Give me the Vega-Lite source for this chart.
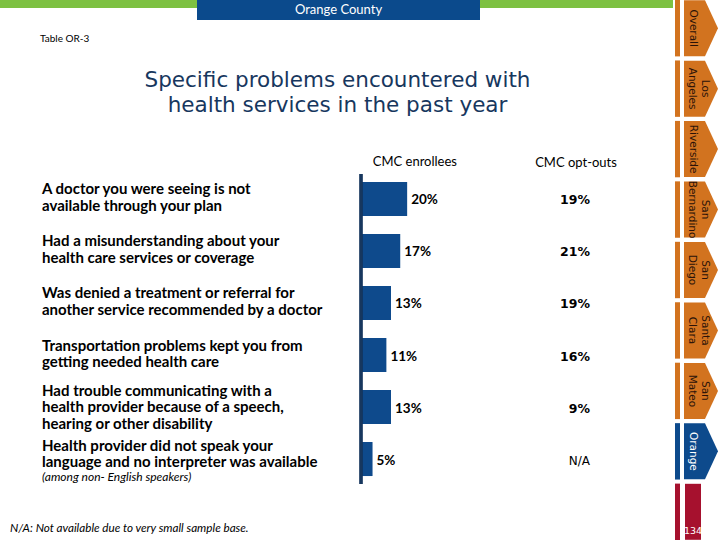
{
  "$schema": "https://vega.github.io/schema/vega-lite/v6.json",
  "padding": 0,
  "background": "white",
  "config": {
    "view": {"stroke": null},
    "font": "Lato",
    "title": {"fontWeight": "normal", "color": "black"}
  },
  "datasets": {
    "problems": [
      {"item": "A doctor you were seeing is not\navailable through your plan", "enrollees": 0.20, "optout": 0.19, "note": null},
      {"item": "Had a misunderstanding about your\nhealth care services or coverage", "enrollees": 0.17, "optout": 0.21, "note": null},
      {"item": "Was denied a treatment or referral for\nanother service recommended by a doctor", "enrollees": 0.13, "optout": 0.19, "note": null},
      {"item": "Transportation problems kept you from\ngetting needed health care", "enrollees": 0.11, "optout": 0.16, "note": null},
      {"item": "Had trouble communicating with a\nhealth provider because of a speech,\nhearing or other disability", "enrollees": 0.13, "optout": 0.09, "note": null},
      {"item": "Health provider did not speak your\nlanguage and no interpreter was available", "enrollees": 0.05, "optout": null, "note": "(among non- English speakers)"}
    ],
    "tabs": [
      {"tab": "Overall", "role": "other"},
      {"tab": "Los Angeles", "role": "other"},
      {"tab": "Riverside", "role": "other"},
      {"tab": "San Bernardino", "role": "other"},
      {"tab": "San Diego", "role": "other"},
      {"tab": "Santa Clara", "role": "other"},
      {"tab": "San Mateo", "role": "other"},
      {"tab": "Orange", "role": "current"},
      {"tab": "134", "role": "page"}
    ]
  },
  "spacing": 2,
  "hconcat": [
    {
      "spacing": 26,
      "title": {"text": "N/A: Not available due to very small sample base.", "orient": "bottom", "anchor": "start", "dx": 10, "offset": 38, "fontSize": 11.7, "fontStyle": "italic", "font": "Lato"},
      "vconcat": [
        {
          "spacing": 0,
          "title": {"text": "Table OR-3", "orient": "bottom", "anchor": "start", "dx": 40, "offset": 14, "fontSize": 10, "font": "Lato"},
          "hconcat": [
            {"width": 197, "height": 8, "data": {"values": [{"seg": "left"}]}, "mark": {"type": "bar", "color": "#7dc142"}, "encoding": {}},
            {"width": 283, "height": 20, "data": {"values": [{"region": "Orange County"}]},
             "layer": [
               {"mark": {"type": "bar", "color": "#0b4a8c"}, "encoding": {}},
               {"mark": {"type": "text", "color": "white", "fontSize": 13, "font": "Lato", "baseline": "middle"}, "encoding": {"text": {"field": "region"}}}
             ]},
            {"width": 193, "height": 8, "data": {"values": [{"seg": "right"}]}, "mark": {"type": "bar", "color": "#7dc142"}, "encoding": {}}
          ]
        },
        {
          "spacing": 0,
          "title": {"text": ["Specific problems encountered with", "health services in the past year"], "anchor": "middle", "dx": 17, "offset": 39, "fontSize": 21.5, "font": "DejaVu Sans", "color": "#17375e", "lineHeight": 25},
          "hconcat": [
            {
              "width": 359, "height": 310,
              "data": {"name": "problems"},
              "title": {"text": " ", "offset": 4, "fontSize": 13},
              "encoding": {"y": {"field": "item", "type": "nominal", "sort": null, "axis": null, "scale": {"padding": 0.48}}},
              "layer": [
                {"transform": [{"filter": "length(split(datum.item, '\\n')) == 2 && datum.note == null"}],
                 "mark": {"type": "text", "align": "left", "baseline": "middle", "lineBreak": "\n", "fontWeight": "bold", "fontSize": 15, "lineHeight": 16.8, "dx": -137.5, "dy": -9.5, "color": "black", "font": "Lato"},
                 "encoding": {"text": {"field": "item"}}},
                {"transform": [{"filter": "length(split(datum.item, '\\n')) == 3"}],
                 "mark": {"type": "text", "align": "left", "baseline": "middle", "lineBreak": "\n", "fontWeight": "bold", "fontSize": 15, "lineHeight": 16.5, "dx": -137.5, "dy": -16.3, "color": "black", "font": "Lato"},
                 "encoding": {"text": {"field": "item"}}},
                {"transform": [{"filter": "datum.note != null"}],
                 "mark": {"type": "text", "align": "left", "baseline": "middle", "lineBreak": "\n", "fontWeight": "bold", "fontSize": 15, "lineHeight": 16.5, "dx": -137.5, "dy": -13.2, "color": "black", "font": "Lato"},
                 "encoding": {"text": {"field": "item"}}},
                {"transform": [{"filter": "datum.note != null"}],
                 "mark": {"type": "text", "align": "left", "baseline": "middle", "fontStyle": "italic", "fontSize": 12, "dx": -137.5, "dy": 18, "color": "black", "font": "Lato"},
                 "encoding": {"text": {"field": "note"}}}
              ]
            },
            {
              "width": 150, "height": 310,
              "data": {"name": "problems"},
              "title": {"text": "CMC enrollees", "anchor": "start", "dx": 13, "offset": 4, "fontSize": 13, "font": "Lato"},
              "layer": [
                {"mark": {"type": "bar", "color": "#0e4a8c"},
                 "encoding": {
                   "y": {"field": "item", "type": "nominal", "sort": null, "axis": null, "scale": {"paddingInner": 0.346, "paddingOuter": 0.153}},
                   "x": {"field": "enrollees", "type": "quantitative", "scale": {"domain": [0, 0.61]}, "axis": null}}},
                {"mark": {"type": "text", "align": "left", "baseline": "middle", "dx": 4, "dy": 1.5, "fontWeight": "bold", "fontSize": 13.5, "color": "black", "font": "Lato"},
                 "encoding": {
                   "y": {"field": "item", "type": "nominal", "sort": null, "axis": null},
                   "x": {"field": "enrollees", "type": "quantitative"},
                   "text": {"field": "enrollees", "type": "quantitative", "format": ".0%"}}},
                {"mark": {"type": "rule", "color": "#17375e", "strokeWidth": 2.5},
                 "encoding": {"x": {"datum": 0}}}
              ]
            },
            {
              "width": 130, "height": 310,
              "data": {"name": "problems"},
              "title": {"text": "CMC opt-outs", "anchor": "middle", "offset": 4, "fontSize": 13, "font": "Lato"},
              "encoding": {"y": {"field": "item", "type": "nominal", "sort": null, "axis": null, "scale": {"padding": 0.48}}},
              "layer": [
                {"transform": [{"filter": "datum.optout != null"}],
                 "mark": {"type": "text", "align": "right", "baseline": "middle", "dx": 14, "dy": 1.5, "fontWeight": "bold", "fontSize": 12.5, "color": "black", "font": "DejaVu Sans"},
                 "encoding": {"text": {"field": "optout", "type": "quantitative", "format": ".0%"}}},
                {"transform": [{"filter": "datum.optout == null"}],
                 "mark": {"type": "text", "align": "right", "baseline": "middle", "dx": 14, "dy": 1.5, "fontSize": 12, "color": "black", "font": "DejaVu Sans"},
                 "encoding": {"text": {"value": "N/A"}}}
              ]
            }
          ]
        }
      ]
    },
    {
      "spacing": 4,
      "bounds": "flush",
      "hconcat": [
        {
          "width": 5, "height": 540,
          "data": {"name": "tabs"},
          "mark": {"type": "bar"},
          "encoding": {
            "y": {"field": "tab", "type": "nominal", "sort": null, "axis": null, "scale": {"paddingInner": 0.067, "paddingOuter": 0}},
            "color": {"field": "role", "type": "nominal", "legend": null, "scale": {"domain": ["other", "current", "page"], "range": ["#d2731f", "#0d4a8c", "#a6112e"]}}
          }
        },
        {
          "width": 34, "height": 540,
          "data": {"name": "tabs"},
          "encoding": {"y": {"field": "tab", "type": "nominal", "sort": null, "axis": null, "scale": {"type": "band", "paddingInner": 0.067, "paddingOuter": 0}}},
          "layer": [
            {"transform": [{"filter": "datum.role != 'page'"}],
             "mark": {"type": "point", "filled": true, "opacity": 1, "size": 3136, "strokeWidth": 0, "shape": "M-0.607,-1L0.143,-1L0.607,0L0.143,1L-0.607,1Z"},
             "encoding": {
               "color": {"field": "role", "type": "nominal", "legend": null, "scale": {"domain": ["other", "current", "page"], "range": ["#d2731f", "#0d4a8c", "#a6112e"]}}}},
            {"transform": [{"filter": "datum.role == 'page'"}],
             "mark": {"type": "point", "filled": true, "opacity": 1, "size": 3136, "strokeWidth": 0, "shape": "M-0.571,-1L0,-1L0,1L-0.571,1Z"},
             "encoding": {
               "color": {"field": "role", "type": "nominal", "legend": null}}},
            {"transform": [{"filter": "datum.role != 'page' && indexof(datum.tab, ' ') < 0"}],
             "mark": {"type": "text", "angle": 90, "baseline": "middle", "align": "center", "dy": 8, "fontSize": 10.5, "font": "DejaVu Sans"},
             "encoding": {
               "text": {"field": "tab"},
               "color": {"condition": {"test": "datum.role == 'current'", "value": "white"}, "value": "#2a1208"}}},
            {"transform": [{"filter": "datum.role != 'page' && indexof(datum.tab, ' ') >= 0"}],
             "mark": {"type": "text", "angle": 90, "lineBreak": " ", "baseline": "middle", "align": "center", "dy": -4, "fontSize": 10.5, "font": "DejaVu Sans", "lineHeight": 13.5, "color": "#2a1208"},
             "encoding": {
               "text": {"field": "tab"}}},
            {"transform": [{"filter": "datum.role == 'page'"}],
             "mark": {"type": "text", "baseline": "middle", "align": "center", "dx": -8, "dy": 19, "fontSize": 9.5, "font": "DejaVu Sans", "color": "white"},
             "encoding": {
               "text": {"field": "tab"}}}
          ]
        }
      ]
    }
  ]
}
